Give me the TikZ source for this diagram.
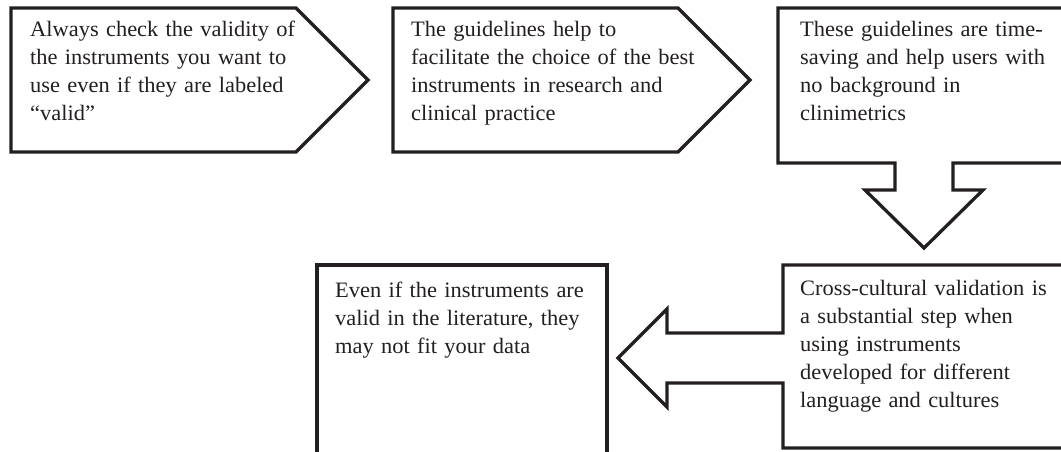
\documentclass[tikz,border=0pt]{standalone}
\usepackage{fontspec}
\setmainfont[FakeStretch=1.02]{Liberation Serif}
\definecolor{ink}{HTML}{231F20}
\begin{document}
\begin{tikzpicture}[x=1pt,y=-1pt,
  shapeline/.style={draw=ink,line width=3.3pt,line join=miter,fill=white},
  txt/.style={anchor=base west,inner sep=0pt,text width=320pt,align=left,text=ink,
    font=\fontsize{22}{28}\selectfont}]
\useasboundingbox (0,0) rectangle (1061,451);
\begin{scope}
\clip (0,0) rectangle (1061,451);
% shape 1
\draw[shapeline] (11,8) -- (296,8) -- (368,80) -- (296,152) -- (11,152) -- cycle;
% shape 2
\draw[shapeline] (393,8) -- (678,8) -- (750,80) -- (678,152) -- (393,152) -- cycle;
% shape 3 with down arrow
\draw[shapeline] (778,8) -- (1075,8) -- (1075,163) -- (953,163) -- (953,190) -- (983,190)
  -- (924,248) -- (865,190) -- (895,190) -- (895,163) -- (778,163) -- cycle;
% shape 4 with left arrow
\draw[shapeline] (783,265) -- (1075,265) -- (1075,448) -- (783,448) -- (783,383) -- (667,383)
  -- (667,407) -- (618,358) -- (667,309) -- (667,333) -- (783,333) -- cycle;
% shape 5
\draw[shapeline] (317,470) -- (317,265) -- (607,265) -- (607,470);
\end{scope}
\node[txt] (t1) at (30,36) {Always check the validity of\\the instruments you want to\\use even if they are labeled\\``valid''};
\node[txt] (t2) at (411,36) {The guidelines help to\\facilitate the choice of the best\\instruments in research and\\clinical practice};
\node[txt] (t3) at (800,36) {These guidelines are time-\\saving and help users with\\no background in\\clinimetrics};
\node[txt] (t4) at (800,295) {Cross-cultural validation is\\a substantial step when\\using instruments\\developed for different\\language and cultures};
\node[txt] (t5) at (335,297) {Even if the instruments are\\valid in the literature, they\\may not fit your data};
\end{tikzpicture}
\end{document}
